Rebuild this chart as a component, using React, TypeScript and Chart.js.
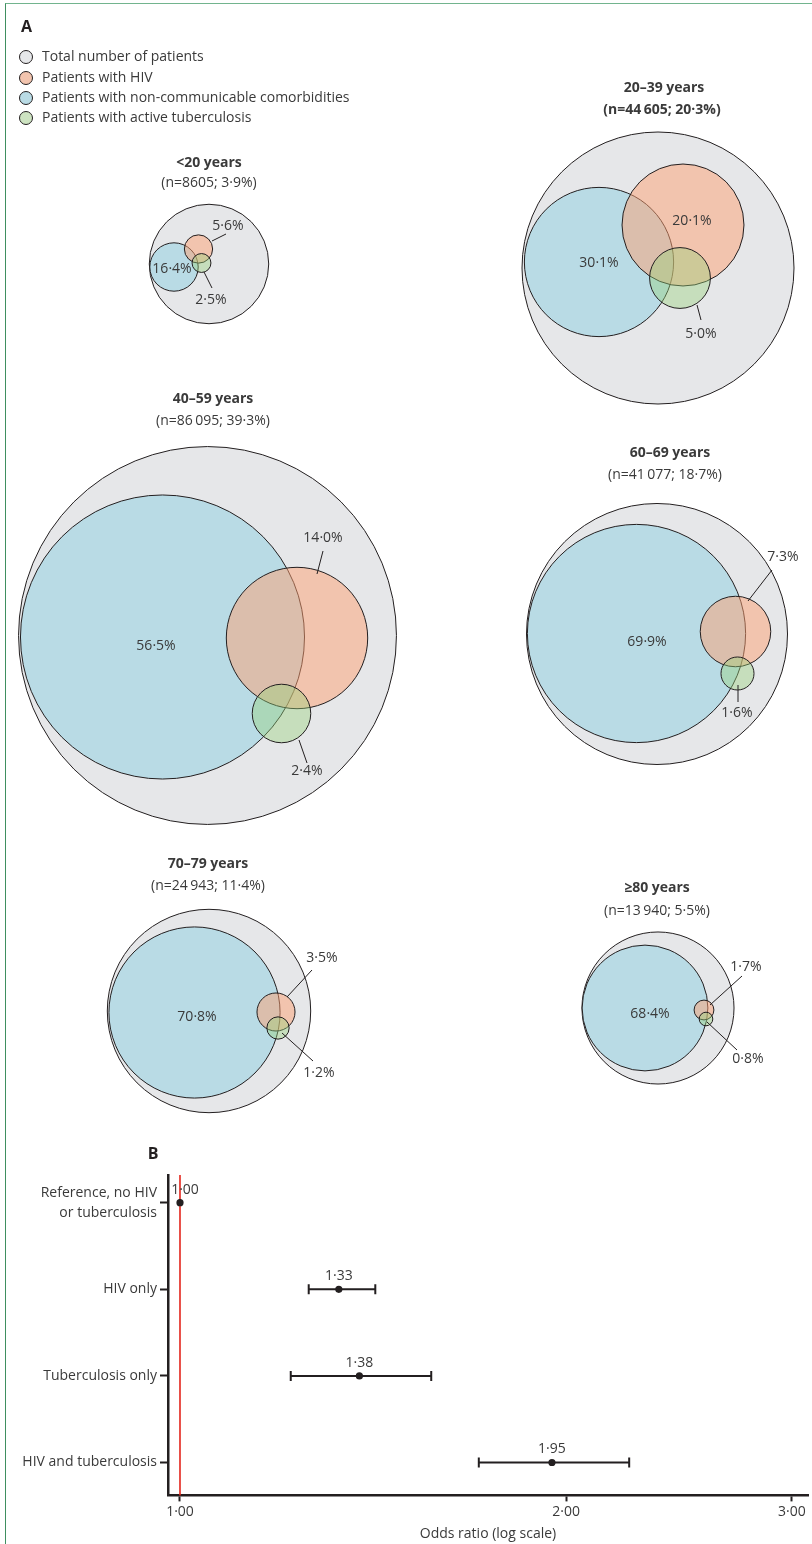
import React, { useEffect, useRef } from 'react';
import { Chart, registerables } from 'chart.js';

Chart.register(...registerables);

// ---------------- DATA ----------------
const ageGroups = ['<20 years', '20–39 years', '40–59 years', '60–69 years', '70–79 years', '≥80 years'];
const patientsN = [8605, 44605, 86095, 41077, 24943, 13940];
const shareOfTotal = [3.9, 20.3, 39.3, 18.7, 11.4, 5.5];
const ncdPct = [16.4, 30.1, 56.5, 69.9, 70.8, 68.4];
const hivPct = [5.6, 20.1, 14.0, 7.3, 3.5, 1.7];
const tbPct = [2.5, 5.0, 2.4, 1.6, 1.2, 0.8];

const legendLabels = [
  'Total number of patients',
  'Patients with HIV',
  'Patients with non-communicable comorbidities',
  'Patients with active tuberculosis',
];

const orCategories: (string | string[])[] = [
  ['Reference, no HIV', 'or tuberculosis'],
  'HIV only',
  'Tuberculosis only',
  'HIV and tuberculosis',
];
const orValues = [1.0, 1.33, 1.38, 1.95];
const orLower = [1.0, 1.26, 1.22, 1.71];
const orUpper = [1.0, 1.42, 1.57, 2.24];
const orTicks = [1, 2, 3];

// ---------------- LAYOUT / STYLE ----------------
const FONT = '"Open Sans", "Noto Sans", sans-serif';
const FS = 14;
const INK = '#231f20';
const TEXT = '#3a3a3a';
const GREY = '#e6e7e9';
const BLUE = '#b9dbe5';
const ORANGE = 'rgba(255,160,113,0.49)';
const GREEN = 'rgba(150,210,120,0.40)';
const LEG_COLORS = [GREY, '#f2c4ae', BLUE, '#cde3c1'];

const W = 812;
const HA = 1140;
const HB = 404;
const PX_PER_SQRT_PATIENT = 136 / Math.sqrt(44605);

const groupCentre = [[209, 264], [658, 268], [207.5, 635.5], [657, 634], [209, 1011], [658, 1008]];
const ncdOffset = [[-35, 3], [-59, -6], [-45, 1.5], [-20.5, -0.5], [-14.5, 1.5], [-13, 0]];
const hivOffset = [[-10.5, -15], [25, -43], [89.5, 2.5], [78.5, -2.5], [67, 1], [46, 2]];
const tbOffset = [[-7.5, -1], [22, 10], [74, 78], [80.5, 39.5], [69, 17], [48, 11]];

const titlePos = [[209, 163], [664, 88], [213, 399], [670, 453], [208, 864], [657, 888]];
const subPos = [[209, 183], [662, 110], [213, 421], [665, 475], [208, 886], [657, 911]];
const subBold = [false, true, false, false, false, false];
const ncdLabelPos = [[172, 269], [599, 263], [156, 646], [647, 642], [197, 1017], [650, 1014]];
const hivLabelPos = [[228, 226], [692, 221], [323, 538], [783, 557], [322, 958], [746, 967]];
const hivLeader: (number[] | null)[] = [
  [226, 234, 212, 241], null, [323, 551, 317, 574], [772, 570, 748, 601], [312, 970, 287, 997], [742, 976, 710, 1005],
];
const tbLabelPos = [[211, 300], [701, 334], [307, 771], [737, 713], [319, 1073], [748, 1059]];
const tbLeader = [
  [204, 272, 212, 288], [697, 305, 701, 320], [299, 740, 307, 763], [738, 685, 738, 702], [282, 1033, 313, 1061], [707, 1022, 737, 1050],
];
const legendRowY = [57, 78, 98, 118];
const orLabelDx = [5, 0, 0, 0];

// ---------------- helpers ----------------
const fmtPct = (v: number) => v.toFixed(1).replace('.', '·') + '%';
const fmtN = (n: number) =>
  n >= 10000 ? `${Math.floor(n / 1000)}\u2009${String(n % 1000).padStart(3, '0')}` : String(n);
const fmtOR = (v: number) => Number(v).toFixed(2).replace('.', '·');

const outerR = (i: number) => PX_PER_SQRT_PATIENT * Math.sqrt(patientsN[i]);
const innerR = (i: number, pct: number) => outerR(i) * Math.sqrt(pct / 100);

function circlePoints(offsets: number[][] | null, pcts: number[] | null) {
  return groupCentre.map((c, i) => ({
    x: c[0] + (offsets ? offsets[i][0] : 0),
    y: c[1] + (offsets ? offsets[i][1] : 0),
    r: pcts ? innerR(i, pcts[i]) : outerR(i),
  }));
}

const panelAPlugin = {
  id: 'panelA',
  afterDatasetsDraw(chart: any) {
    const { ctx } = chart;
    const xs = chart.scales.x;
    const ys = chart.scales.y;
    const X = (v: number) => xs.getPixelForValue(v);
    const Y = (v: number) => ys.getPixelForValue(v);
    ctx.save();
    ctx.fillStyle = INK;
    ctx.textBaseline = 'middle';
    // panel letter
    ctx.font = `bold 16px ${FONT}`;
    ctx.textAlign = 'left';
    ctx.fillText('A', X(21), Y(27));
    // legend
    legendLabels.forEach((lab, k) => {
      ctx.beginPath();
      ctx.arc(X(26), Y(legendRowY[k]), 6.5, 0, Math.PI * 2);
      ctx.fillStyle = LEG_COLORS[k];
      ctx.fill();
      ctx.lineWidth = 1;
      ctx.strokeStyle = INK;
      ctx.stroke();
      ctx.fillStyle = TEXT;
      ctx.font = `${FS}px ${FONT}`;
      ctx.textAlign = 'left';
      ctx.fillText(lab, X(42), Y(legendRowY[k]));
    });
    // titles and labels
    ageGroups.forEach((g, i) => {
      ctx.textAlign = 'center';
      ctx.fillStyle = TEXT;
      ctx.font = `bold ${FS}px ${FONT}`;
      ctx.fillText(g, X(titlePos[i][0]), Y(titlePos[i][1]));
      ctx.font = `${subBold[i] ? 'bold ' : ''}${FS}px ${FONT}`;
      ctx.fillText(`(n=${fmtN(patientsN[i])}; ${fmtPct(shareOfTotal[i])})`, X(subPos[i][0]), Y(subPos[i][1]));
      ctx.font = `${FS}px ${FONT}`;
      ctx.fillText(fmtPct(ncdPct[i]), X(ncdLabelPos[i][0]), Y(ncdLabelPos[i][1]));
      ctx.fillText(fmtPct(hivPct[i]), X(hivLabelPos[i][0]), Y(hivLabelPos[i][1]));
      ctx.fillText(fmtPct(tbPct[i]), X(tbLabelPos[i][0]), Y(tbLabelPos[i][1]));
      ctx.strokeStyle = INK;
      ctx.lineWidth = 1;
      const lines = [hivLeader[i], tbLeader[i]];
      lines.forEach((l) => {
        if (!l) return;
        ctx.beginPath();
        ctx.moveTo(X(l[0]), Y(l[1]));
        ctx.lineTo(X(l[2]), Y(l[3]));
        ctx.stroke();
      });
    });
    ctx.restore();
  },
};

const forestPlugin = {
  id: 'forest',
  beforeDatasetsDraw(chart: any) {
    const { ctx, chartArea } = chart;
    const xs = chart.scales.x;
    const ys = chart.scales.y;
    ctx.save();
    // reference line at OR = 1
    ctx.strokeStyle = '#e3241b';
    ctx.lineWidth = 1.6;
    const xr = xs.getPixelForValue(1);
    ctx.beginPath();
    ctx.moveTo(xr, chartArea.top);
    ctx.lineTo(xr, chartArea.bottom);
    ctx.stroke();
    // confidence intervals
    ctx.strokeStyle = INK;
    ctx.lineWidth = 2;
    orValues.forEach((v, i) => {
      if (orUpper[i] <= orLower[i]) return;
      const y = ys.getPixelForValue(i);
      const x1 = xs.getPixelForValue(orLower[i]);
      const x2 = xs.getPixelForValue(orUpper[i]);
      ctx.beginPath();
      ctx.moveTo(x1, y);
      ctx.lineTo(x2, y);
      ctx.moveTo(x1, y - 5);
      ctx.lineTo(x1, y + 5);
      ctx.moveTo(x2, y - 5);
      ctx.lineTo(x2, y + 5);
      ctx.stroke();
    });
    ctx.restore();
  },
  afterDatasetsDraw(chart: any) {
    const { ctx } = chart;
    const xs = chart.scales.x;
    const ys = chart.scales.y;
    ctx.save();
    ctx.fillStyle = TEXT;
    ctx.font = `${FS}px ${FONT}`;
    ctx.textAlign = 'center';
    ctx.textBaseline = 'middle';
    orValues.forEach((v, i) => {
      ctx.fillText(fmtOR(v), xs.getPixelForValue(v) + orLabelDx[i], ys.getPixelForValue(i) - 13);
    });
    ctx.fillStyle = INK;
    ctx.font = `bold 16px ${FONT}`;
    ctx.fillText('B', 153, 14);
    ctx.restore();
  },
};

export default function App() {
  const refA = useRef<HTMLCanvasElement>(null);
  const refB = useRef<HTMLCanvasElement>(null);

  useEffect(() => {
    const chartA = new Chart(refA.current as HTMLCanvasElement, {
      type: 'bubble',
      data: {
        datasets: [
          { label: legendLabels[3], data: circlePoints(tbOffset, tbPct), backgroundColor: GREEN, borderColor: INK, borderWidth: 1, order: 0, clip: false } as any,
          { label: legendLabels[1], data: circlePoints(hivOffset, hivPct), backgroundColor: ORANGE, borderColor: INK, borderWidth: 1, order: 1, clip: false } as any,
          { label: legendLabels[2], data: circlePoints(ncdOffset, ncdPct), backgroundColor: BLUE, borderColor: INK, borderWidth: 1, order: 2, clip: false } as any,
          { label: legendLabels[0], data: circlePoints(null, null), backgroundColor: GREY, borderColor: INK, borderWidth: 1, order: 3, clip: false } as any,
        ],
      },
      options: {
        responsive: false,
        animation: false,
        events: [],
        layout: { padding: 0, autoPadding: false },
        plugins: { legend: { display: false }, tooltip: { enabled: false } },
        scales: {
          x: { type: 'linear', min: 0, max: W, display: false },
          y: { type: 'linear', min: 0, max: HA, reverse: true, display: false },
        },
      },
      plugins: [panelAPlugin],
    });

    const tickFont = { family: FONT, size: FS };
    const chartB = new Chart(refB.current as HTMLCanvasElement, {
      type: 'scatter',
      data: {
        datasets: [
          {
            data: orValues.map((v, i) => ({ x: v, y: i })),
            pointRadius: 3.6,
            backgroundColor: INK,
            borderColor: INK,
            borderWidth: 0,
          },
        ],
      },
      options: {
        responsive: false,
        animation: false,
        events: [],
        layout: { padding: { top: 35, right: 4, bottom: 2, left: 0 }, autoPadding: false },
        plugins: { legend: { display: false }, tooltip: { enabled: false } },
        scales: {
          x: {
            type: 'logarithmic',
            min: 0.9787,
            max: 3.088,
            afterBuildTicks: (s: any) => {
              s.ticks = orTicks.map((v) => ({ value: v }));
            },
            ticks: {
              callback: (v: any) => fmtOR(Number(v)),
              font: tickFont,
              color: TEXT,
              padding: 2,
              maxRotation: 0,
              autoSkip: false,
            },
            grid: { display: true, drawOnChartArea: false, drawTicks: true, tickLength: 6, tickColor: INK, tickWidth: 2 },
            border: { display: true, color: INK, width: 2.5 },
            title: { display: true, text: 'Odds ratio (log scale)', font: tickFont, color: TEXT, padding: { top: 3, bottom: 0 } },
          },
          y: {
            type: 'linear',
            reverse: true,
            min: -0.32,
            max: 3.38,
            afterBuildTicks: (s: any) => {
              s.ticks = orCategories.map((_, i) => ({ value: i }));
            },
            afterFit: (s: any) => {
              s.width = 168;
            },
            ticks: {
              callback: (_v: any, idx: number) => orCategories[idx] as any,
              font: { family: FONT, size: FS, lineHeight: 1.45 },
              color: TEXT,
              padding: 3,
              autoSkip: false,
            },
            grid: { display: true, drawOnChartArea: false, drawTicks: true, tickLength: 8, tickColor: INK, tickWidth: 2 },
            border: { display: true, color: INK, width: 2.5 },
          },
        },
      },
      plugins: [forestPlugin],
    });

    return () => {
      chartA.destroy();
      chartB.destroy();
    };
  }, []);

  return (
    <div style={{ position: 'absolute', left: 0, top: 0, width: W, height: HA + HB, background: '#fff', overflow: 'hidden' }}>
      <div
        style={{
          position: 'absolute',
          left: 5,
          top: 3,
          width: W - 5,
          height: HA + HB - 3,
          borderLeft: '1px solid #3f8f60',
          borderTop: '1px solid #72b48e',
          boxSizing: 'border-box',
        }}
      />
      <canvas ref={refA} width={W} height={HA} style={{ position: 'absolute', left: 0, top: 0 }} />
      <canvas ref={refB} width={W} height={HB} style={{ position: 'absolute', left: 0, top: HA }} />
    </div>
  );
}
